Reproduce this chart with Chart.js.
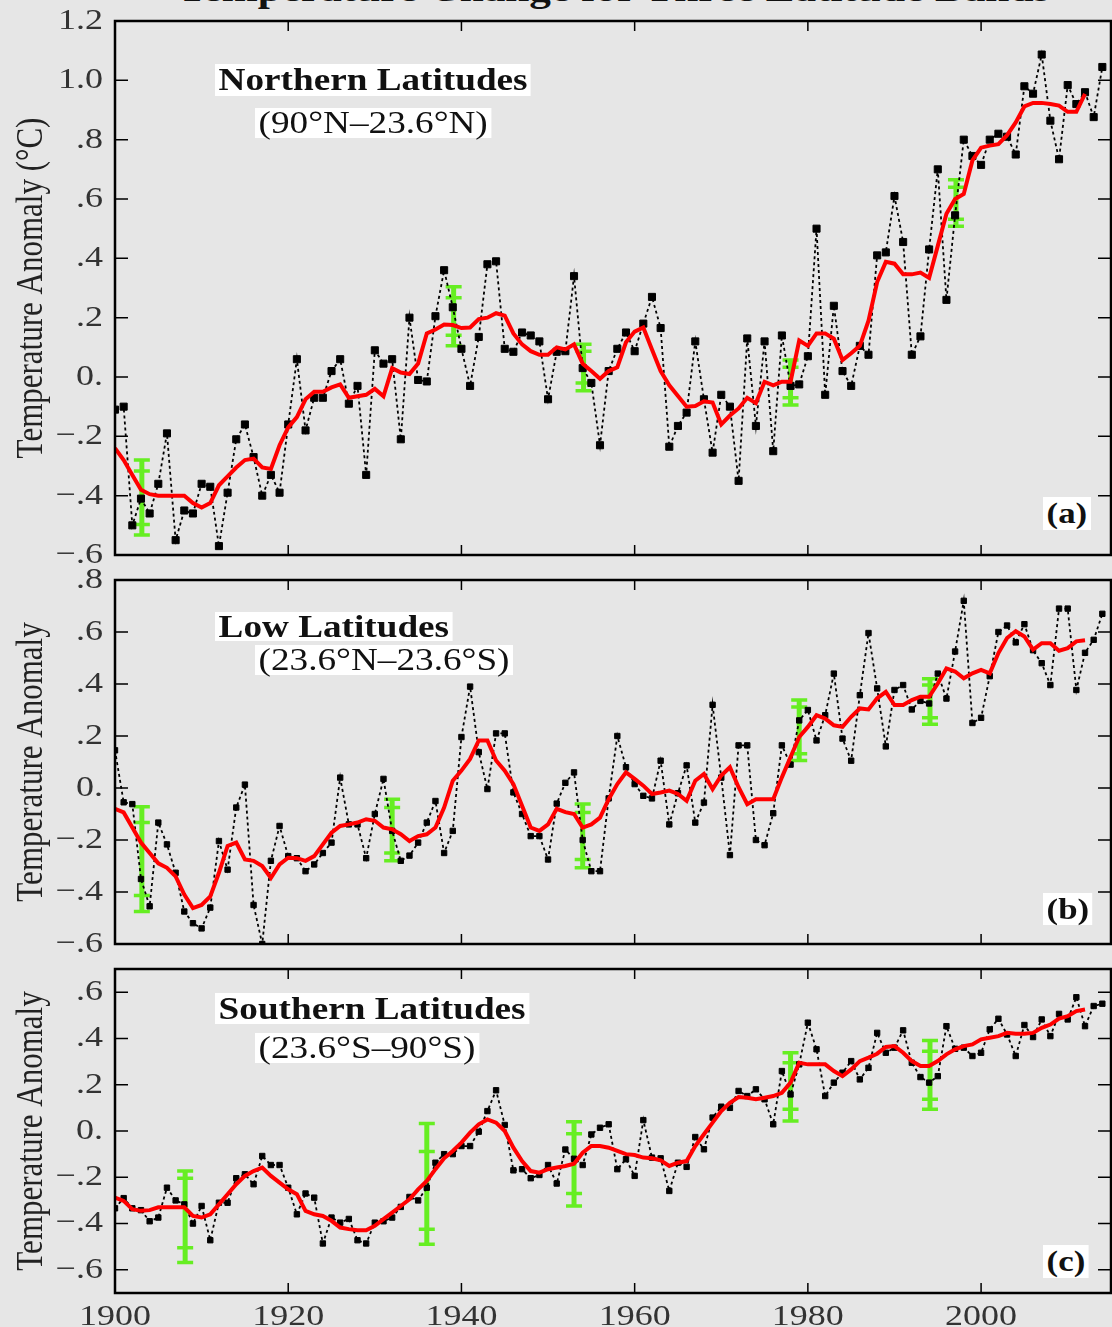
<!DOCTYPE html>
<html>
<head>
<meta charset="utf-8">
<title>Temperature Change for Three Latitude Bands</title>
<script src="https://cdn.jsdelivr.net/npm/chart.js@4.4.0/dist/chart.umd.min.js"></script>
<style>
html, body { margin: 0; padding: 0; overflow: hidden; }
body { background: #e6e6e6; width: 1112px; height: 1327px; position: relative; }
canvas { position: absolute; left: 0; }
#title {
    position: absolute; left: 0; top: -29px; width: 1228px; text-align: center;
    font: bold 36px 'Liberation Serif', serif; line-height: 36px; color: #111;
    transform: scaleX(1.2); transform-origin: 614px 0; white-space: nowrap;
}
.box {
    position: absolute; background: #fff; color: #111; white-space: nowrap;
    font-family: 'Liberation Serif', serif; font-size: 31px; padding: 0 3px;
    transform: scaleX(1.2); transform-origin: 0 0;
}
.bold { font-weight: bold; }
</style>
</head>
<body>
<div id="title">Temperature Change for Three Latitude Bands</div>

<canvas id="panelA" width="1125" height="594" style="top:-9px"></canvas>
<canvas id="panelB" width="1125" height="424" style="top:550px"></canvas>
<canvas id="panelC" width="1125" height="388" style="top:939px"></canvas>

<div class="box bold" style="left:215px;top:64px;line-height:32px">Northern Latitudes</div>
<div class="box" style="left:255px;top:108px;line-height:30px">(90°N–23.6°N)</div>
<div class="box bold" style="left:1043px;top:497px;line-height:33px;font-size:29px">(a)</div>

<div class="box bold" style="left:215px;top:612px;line-height:29px">Low Latitudes</div>
<div class="box" style="left:255px;top:645px;line-height:30px">(23.6°N–23.6°S)</div>
<div class="box bold" style="left:1043px;top:893px;line-height:32px;font-size:29px">(b)</div>

<div class="box bold" style="left:215px;top:993px;line-height:31px">Southern Latitudes</div>
<div class="box" style="left:255px;top:1033px;line-height:30px">(23.6°S–90°S)</div>
<div class="box bold" style="left:1043px;top:1245px;line-height:33px;font-size:29px">(c)</div>

<script>
// annual values start at 1900, one per year
var firstYear = 1900;

var northAnnual = [
    -0.11, -0.10, -0.50, -0.41, -0.46, -0.36, -0.19, -0.55, -0.45, -0.46,
    -0.36, -0.37, -0.57, -0.39, -0.21, -0.16, -0.27, -0.40, -0.33, -0.39,
    -0.16, 0.06, -0.18, -0.07, -0.07, 0.02, 0.06, -0.09, -0.03, -0.33,
    0.09, 0.045, 0.06, -0.21, 0.20, -0.01, -0.015, 0.205, 0.36, 0.235,
    0.095, -0.03, 0.135, 0.38, 0.39, 0.095, 0.085, 0.15, 0.14, 0.12,
    -0.075, 0.085, 0.087, 0.34, 0.03, -0.02, -0.23, 0.02, 0.095, 0.15,
    0.087, 0.18, 0.27, 0.165, -0.235, -0.165, -0.12, 0.12, -0.075, -0.255,
    -0.06, -0.10, -0.35, 0.13, -0.165, 0.12, -0.25, 0.14, -0.03, -0.025,
    0.07, 0.50, -0.06, 0.24, 0.02, -0.03, 0.105, 0.075, 0.41, 0.42,
    0.61, 0.455, 0.075, 0.137, 0.43, 0.70, 0.26, 0.545, 0.80, 0.745,
    0.715, 0.80, 0.82, 0.81, 0.75, 0.98, 0.955, 1.087, 0.864, 0.734,
    0.984, 0.92, 0.96, 0.876, 1.045
];
var northSmooth = [
    -0.24, -0.28, -0.33, -0.38, -0.395, -0.40, -0.40, -0.40, -0.40, -0.425,
    -0.44, -0.425, -0.365, -0.335, -0.305, -0.28, -0.275, -0.305, -0.31, -0.23,
    -0.17, -0.135, -0.075, -0.05, -0.05, -0.035, -0.025, -0.07, -0.065, -0.06,
    -0.04, -0.065, 0.03, 0.015, 0.01, 0.045, 0.147, 0.16, 0.177, 0.175,
    0.165, 0.167, 0.195, 0.20, 0.215, 0.207, 0.147, 0.11, 0.087, 0.075,
    0.075, 0.10, 0.093, 0.11, 0.045, 0.02, -0.006, 0.02, 0.033, 0.117,
    0.153, 0.167, 0.093, 0.02, -0.028, -0.064, -0.10, -0.098, -0.082, -0.086,
    -0.16, -0.13, -0.106, -0.07, -0.088, -0.016, -0.028, -0.016, -0.016, 0.123,
    0.105, 0.147, 0.147, 0.129, 0.057, 0.08, 0.105, 0.19, 0.32, 0.388,
    0.382, 0.346, 0.346, 0.352, 0.334, 0.442, 0.55, 0.60, 0.617, 0.73,
    0.773, 0.78, 0.785, 0.815, 0.858, 0.912, 0.924, 0.924, 0.92, 0.915,
    0.894, 0.894, 0.954
];
var northErrYear = [1903.1, 1939.1, 1954.1, 1978, 1997.1];
var northErrHi   = [-0.28, 0.304, 0.11, 0.057, 0.665];
var northErrHi2  = [-0.317, 0.267, 0.087, 0.033, 0.64];
var northErrLo2  = [-0.497, 0.141, -0.02, -0.07, 0.532];
var northErrLo   = [-0.533, 0.105, -0.046, -0.094, 0.508];

var lowAnnual = [
    0.145, -0.055, -0.062, -0.35, -0.455, -0.133, -0.217, -0.326, -0.475, -0.52,
    -0.54, -0.46, -0.204, -0.314, -0.075, 0.013, -0.45, -0.60, -0.28, -0.146,
    -0.262, -0.27, -0.32, -0.294, -0.25, -0.21, 0.04, -0.14, -0.14, -0.27,
    -0.10, 0.035, -0.165, -0.28, -0.26, -0.21, -0.133, -0.05, -0.25, -0.165,
    0.196, 0.39, 0.138, -0.004, 0.21, 0.21, -0.017, -0.10, -0.185, -0.185,
    -0.275, -0.06, 0.02, 0.06, -0.20, -0.32, -0.32, -0.04, 0.20, 0.08,
    0.015, -0.03, -0.04, 0.105, -0.14, -0.02, 0.087, -0.133, -0.056, 0.32,
    0.04, -0.258, 0.164, 0.164, -0.20, -0.22, -0.097, 0.164, 0.09, 0.26,
    0.30, 0.183, 0.28, 0.44, 0.19, 0.105, 0.357, 0.596, 0.383, 0.16,
    0.377, 0.396, 0.302, 0.335, 0.325, 0.44, 0.344, 0.525, 0.72, 0.25,
    0.27, 0.43, 0.60, 0.625, 0.56, 0.63, 0.53, 0.48, 0.396, 0.69,
    0.69, 0.377, 0.52, 0.57, 0.67
];
var lowSmooth = [
    -0.08, -0.094, -0.152, -0.21, -0.25, -0.29, -0.307, -0.34, -0.41, -0.462,
    -0.45, -0.417, -0.326, -0.223, -0.21, -0.275, -0.28, -0.30, -0.346, -0.294,
    -0.268, -0.27, -0.28, -0.262, -0.217, -0.172, -0.146, -0.14, -0.133, -0.12,
    -0.126, -0.152, -0.159, -0.178, -0.204, -0.185, -0.178, -0.152, -0.075, 0.028,
    0.067, 0.112, 0.183, 0.183, 0.106, 0.067, 0.015, -0.068, -0.152, -0.165,
    -0.14, -0.08, -0.093, -0.10, -0.152, -0.14, -0.114, -0.043, 0.015, 0.06,
    0.035, 0.009, -0.023, -0.017, -0.01, -0.023, -0.049, 0.028, 0.054, -0.004,
    0.048, 0.08, 0.003, -0.062, -0.043, -0.043, -0.043, 0.041, 0.119, 0.196,
    0.235, 0.28, 0.267, 0.241, 0.235, 0.274, 0.306, 0.302, 0.345, 0.37,
    0.319, 0.319, 0.338, 0.351, 0.351, 0.402, 0.46, 0.448, 0.422, 0.441,
    0.454, 0.441, 0.519, 0.577, 0.603, 0.583, 0.532, 0.557, 0.557, 0.528,
    0.538, 0.564, 0.568
];
var lowErrYear = [1903.1, 1932, 1954, 1979, 1994.1];
var lowErrHi   = [-0.072, -0.043, -0.062, 0.338, 0.42];
var lowErrHi2  = [-0.133, -0.075, -0.094, 0.312, 0.396];
var lowErrLo2  = [-0.413, -0.25, -0.275, 0.132, 0.27];
var lowErrLo   = [-0.475, -0.28, -0.307, 0.106, 0.245];

var southAnnual = [
    -0.334, -0.29, -0.334, -0.342, -0.39, -0.374, -0.245, -0.30, -0.317, -0.40,
    -0.324, -0.472, -0.31, -0.31, -0.204, -0.187, -0.23, -0.108, -0.147, -0.147,
    -0.245, -0.36, -0.27, -0.288, -0.486, -0.374, -0.396, -0.38, -0.472, -0.486,
    -0.396, -0.39, -0.374, -0.328, -0.285, -0.30, -0.245, -0.137, -0.10, -0.10,
    -0.065, -0.065, -0.003, 0.086, 0.176, 0.026, -0.17, -0.165, -0.204, -0.19,
    -0.147, -0.227, -0.08, -0.12, -0.147, -0.015, 0.014, 0.029, -0.165, -0.122,
    -0.194, 0.047, -0.115, -0.118, -0.259, -0.137, -0.155, -0.026, -0.079, 0.058,
    0.105, 0.10, 0.173, 0.151, 0.18, 0.137, 0.029, 0.259, 0.158, 0.288,
    0.468, 0.353, 0.151, 0.209, 0.252, 0.302, 0.223, 0.273, 0.424, 0.338,
    0.36, 0.435, 0.295, 0.233, 0.209, 0.237, 0.453, 0.355, 0.36, 0.324,
    0.338, 0.439, 0.485, 0.417, 0.324, 0.458, 0.406, 0.482, 0.41, 0.506,
    0.482, 0.578, 0.453, 0.54, 0.55
];
var southSmooth = [
    -0.288, -0.302, -0.338, -0.345, -0.342, -0.33, -0.33, -0.33, -0.33, -0.367,
    -0.374, -0.36, -0.317, -0.273, -0.23, -0.194, -0.173, -0.158, -0.194, -0.223,
    -0.252, -0.273, -0.345, -0.36, -0.367, -0.388, -0.417, -0.424, -0.429, -0.429,
    -0.41, -0.381, -0.353, -0.324, -0.295, -0.252, -0.216, -0.165, -0.118, -0.086,
    -0.05, -0.007, 0.029, 0.05, 0.036, 0.0, -0.072, -0.13, -0.173, -0.18,
    -0.165, -0.158, -0.151, -0.141, -0.094, -0.065, -0.065, -0.072, -0.086, -0.10,
    -0.104, -0.115, -0.118, -0.127, -0.151, -0.137, -0.13, -0.065, -0.014, 0.036,
    0.086, 0.122, 0.147, 0.144, 0.137, 0.144, 0.151, 0.165, 0.209, 0.295,
    0.288, 0.288, 0.288, 0.259, 0.237, 0.266, 0.302, 0.317, 0.334, 0.363,
    0.367, 0.338, 0.302, 0.281, 0.281, 0.302, 0.331, 0.353, 0.367, 0.374,
    0.396, 0.403, 0.41, 0.424, 0.42, 0.42, 0.424, 0.446, 0.46, 0.486,
    0.496, 0.518, 0.525
];
var southErrYear = [1908.1, 1936, 1953, 1978, 1994.1];
var southErrHi   = [-0.173, 0.032, 0.04, 0.338, 0.391];
var southErrHi2  = [-0.204, -0.089, -0.012, 0.295, 0.345];
var southErrLo2  = [-0.504, -0.424, -0.27, 0.094, 0.137];
var southErrLo   = [-0.568, -0.489, -0.324, 0.043, 0.094];

var xTickYears  = [1900, 1920, 1940, 1960, 1980, 2000];
var xTickLabels = ['1900', '1920', '1940', '1960', '1980', '2000'];

var yTicksNorth  = [1.2, 1.0, 0.8, 0.6, 0.4, 0.2, 0, -0.2, -0.4, -0.6];
var yLabelsNorth = ['1.2', '1.0', '.8', '.6', '.4', '.2', '0.', '\u2212.2', '\u2212.4', '\u2212.6'];
var yTicksLow    = [0.8, 0.6, 0.4, 0.2, 0, -0.2, -0.4, -0.6];
var yLabelsLow   = ['.8', '.6', '.4', '.2', '0.', '\u2212.2', '\u2212.4', '\u2212.6'];
var yTicksSouth  = [0.6, 0.4, 0.2, 0, -0.2, -0.4, -0.6];
var yLabelsSouth = ['.6', '.4', '.2', '0.', '\u2212.2', '\u2212.4', '\u2212.6'];

var serif = "'Liberation Serif', 'Times New Roman', serif";
var green = '#66ee22';

function toPoints(values) {
    return values.map(function (v, i) { return { x: firstYear + i, y: v }; });
}

// the original lettering is wide, so every text drawn on the canvas gets stretched sideways
function stretchText(ctx, sx) {
    var fill = ctx.fillText.bind(ctx);
    ctx.fillText = function (text, x, y, maxWidth) {
        var m = ctx.getTransform();
        var p = m.transformPoint(new DOMPoint(x, y));
        ctx.setTransform(new DOMMatrix().translate(p.x, p.y).scale(sx, 1).translate(-p.x, -p.y).multiply(m));
        if (maxWidth === undefined) fill(text, x, y);
        else fill(text, x, y, maxWidth);
        ctx.setTransform(m);
    };
}

function errorBarPlugin(yrs, hi, hi2, lo2, lo) {
    return {
        id: 'errbars',
        beforeDatasetsDraw: function (chart) {
            var ctx = chart.ctx, xs = chart.scales.x, ys = chart.scales.y;
            ctx.save();
            ctx.strokeStyle = green;
            for (var i = 0; i < yrs.length; i++) {
                var px = xs.getPixelForValue(yrs[i]);
                ctx.lineWidth = 5;
                ctx.beginPath();
                ctx.moveTo(px, ys.getPixelForValue(hi[i]));
                ctx.lineTo(px, ys.getPixelForValue(lo[i]));
                ctx.stroke();
                ctx.lineWidth = 3.5;
                ctx.beginPath();
                [hi[i], hi2[i], lo2[i], lo[i]].forEach(function (v) {
                    var py = ys.getPixelForValue(v);
                    ctx.moveTo(px - 8, py);
                    ctx.lineTo(px + 8, py);
                });
                ctx.stroke();
            }
            ctx.restore();
        }
    };
}

// box round the plot with the short inward ticks
var framePlugin = {
    id: 'frame',
    afterDraw: function (chart) {
        var ctx = chart.ctx, a = chart.chartArea;
        var xs = chart.scales.x, ys = chart.scales.y;
        ctx.save();
        ctx.strokeStyle = '#000';
        ctx.lineWidth = 1.5;
        ctx.beginPath();
        ys.ticks.forEach(function (t) {
            var py = ys.getPixelForValue(t.value);
            ctx.moveTo(a.left, py); ctx.lineTo(a.left + 13, py);
            ctx.moveTo(a.right, py); ctx.lineTo(a.right - 13, py);
        });
        xs.ticks.forEach(function (t) {
            var px = xs.getPixelForValue(t.value);
            ctx.moveTo(px, a.top); ctx.lineTo(px, a.top + 10);
            ctx.moveTo(px, a.bottom); ctx.lineTo(px, a.bottom - 10);
        });
        ctx.stroke();
        ctx.lineWidth = 2.5;
        ctx.strokeRect(a.left, a.top, a.right - a.left, a.bottom - a.top);
        ctx.restore();
    }
};

function makePanel(id, p) {
    var ctx = document.getElementById(id).getContext('2d');
    stretchText(ctx, 1.2);
    return new Chart(ctx, {
        type: 'line',
        data: {
            datasets: [
                { data: toPoints(p.smooth), borderColor: '#ff0000', borderWidth: 4, pointRadius: 0, tension: 0 },
                { data: toPoints(p.annual), borderColor: '#000', borderWidth: 1.8, borderDash: [3, 3],
                  pointStyle: 'rect', pointRadius: p.dot, pointBackgroundColor: '#000',
                  pointBorderColor: '#000', pointBorderWidth: 1, tension: 0 }
            ]
        },
        options: {
            responsive: false,
            animation: false,
            events: [],
            // the y tick labels already keep 30px free above and below the plot
            layout: { padding: { top: 20, right: 14, left: 0, bottom: 0 } },
            plugins: { legend: { display: false }, tooltip: { enabled: false } },
            scales: {
                x: {
                    type: 'linear', min: 1900, max: 2015,
                    grid: { display: false, drawTicks: false },
                    border: { display: false },
                    afterBuildTicks: function (s) { s.ticks = xTickYears.map(function (v) { return { value: v }; }); },
                    afterFit: function (s) { s.height = p.xh; },
                    ticks: {
                        display: p.xlabels, padding: 6, color: '#333', autoSkip: false, maxRotation: 0,
                        font: { family: serif, size: 30 },
                        callback: function (v) { return xTickLabels[xTickYears.indexOf(v)]; }
                    }
                },
                y: {
                    min: p.ymin, max: p.ymax,
                    grid: { display: false, drawTicks: false },
                    border: { display: false },
                    afterBuildTicks: function (s) { s.ticks = p.yticks.map(function (v) { return { value: v }; }); },
                    afterFit: function (s) { s.width = 115; },
                    ticks: {
                        padding: 12, color: '#333', autoSkip: false,
                        font: { family: serif, size: 30 },
                        callback: function (v) { return p.ylabels[p.yticks.indexOf(v)]; }
                    },
                    title: {
                        display: true, text: p.ytitle, color: '#222',
                        font: { family: serif, size: 31 },
                        padding: { top: 14, bottom: 0 }
                    }
                }
            }
        },
        plugins: [errorBarPlugin(p.errYear, p.errHi, p.errHi2, p.errLo2, p.errLo), framePlugin]
    });
}

makePanel('panelA', {
    annual: northAnnual, smooth: northSmooth, dot: 5,
    errYear: northErrYear, errHi: northErrHi, errHi2: northErrHi2, errLo2: northErrLo2, errLo: northErrLo,
    ymin: -0.6, ymax: 1.2, yticks: yTicksNorth, ylabels: yLabelsNorth,
    ytitle: 'Temperature Anomaly (°C)', xh: 30, xlabels: false
});
makePanel('panelB', {
    annual: lowAnnual, smooth: lowSmooth, dot: 3.8,
    errYear: lowErrYear, errHi: lowErrHi, errHi2: lowErrHi2, errLo2: lowErrLo2, errLo: lowErrLo,
    ymin: -0.6, ymax: 0.8, yticks: yTicksLow, ylabels: yLabelsLow,
    ytitle: 'Temperature Anomaly', xh: 30, xlabels: false
});
makePanel('panelC', {
    annual: southAnnual, smooth: southSmooth, dot: 3.8,
    errYear: southErrYear, errHi: southErrHi, errHi2: southErrHi2, errLo2: southErrLo2, errLo: southErrLo,
    ymin: -0.7, ymax: 0.7, yticks: yTicksSouth, ylabels: yLabelsSouth,
    ytitle: 'Temperature Anomaly', xh: 34, xlabels: true
});
</script>
</body>
</html>
